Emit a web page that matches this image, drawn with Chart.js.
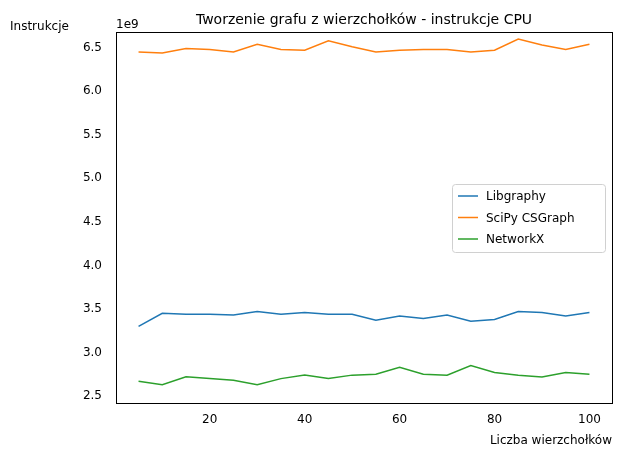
<!DOCTYPE html>
<html>
<head>
<meta charset="utf-8">
<script src="https://cdn.jsdelivr.net/npm/chart.js@4"></script>
<style>
  body { margin: 0; background: #fff; }
  #wrap { width: 621px; height: 457px; }
</style>
</head>
<body>
<div id="wrap"><canvas id="c" width="621" height="457"></canvas></div>
<script>
// -- data (values in units of 1e9 instructions) ----------------------------->
const sizes = [5, 10, 15, 20, 25, 30, 35, 40, 45, 50, 55, 60, 65, 70, 75, 80, 85, 90, 95, 100]
const libgraphy = [3.30, 3.45, 3.44, 3.44, 3.43, 3.47, 3.44, 3.46, 3.44, 3.44, 3.37, 3.42, 3.39, 3.43, 3.36, 3.38, 3.47, 3.46, 3.42, 3.46]
const scipy = [6.45, 6.44, 6.49, 6.48, 6.45, 6.54, 6.48, 6.47, 6.58, 6.51, 6.45, 6.47, 6.48, 6.48, 6.45, 6.47, 6.60, 6.53, 6.48, 6.54]
const networkx = [2.67, 2.63, 2.72, 2.70, 2.68, 2.63, 2.70, 2.74, 2.70, 2.74, 2.75, 2.83, 2.75, 2.74, 2.85, 2.77, 2.74, 2.72, 2.77, 2.75]
const xTicks = [20, 40, 60, 80, 100]
const yTicks = [2.5, 3.0, 3.5, 4.0, 4.5, 5.0, 5.5, 6.0, 6.5]

const FONT = 'DejaVu Sans'
const series = [
    { label: 'Libgraphy', data: libgraphy, color: '#1f77b4' },
    { label: 'SciPy CSGraph', data: scipy, color: '#ff7f0e' },
    { label: 'NetworkX', data: networkx, color: '#2ca02c' }
]

// -- extra drawing: frame, texts, legend ------------------------------------>
const decor = {
    id: 'decor',
    afterDraw(chart) {
        const { ctx, chartArea: a } = chart
        ctx.save()
        ctx.strokeStyle = '#000'
        ctx.lineWidth = 1
        ctx.strokeRect(a.left + 0.5, a.top + 0.5, a.right - a.left, a.bottom - a.top)

        ctx.fillStyle = '#000'
        ctx.font = '14px ' + FONT
        ctx.textAlign = 'center'
        ctx.textBaseline = 'alphabetic'
        ctx.fillText('Tworzenie grafu z wierzchołków - instrukcje CPU', (a.left + a.right) / 2, 24)

        ctx.font = '12px ' + FONT
        ctx.textAlign = 'left'
        ctx.fillText('Instrukcje', 10, 30)
        ctx.fillText('1e9', a.left, 28)
        ctx.textAlign = 'right'
        ctx.fillText('Liczba wierzchołków', 612, 444)

        // legend box
        const lx = 452, ly = 184, lw = 153, lh = 68
        ctx.fillStyle = 'rgba(255,255,255,0.8)'
        ctx.strokeStyle = '#d0d0d0'
        ctx.beginPath()
        ctx.roundRect(lx + 0.5, ly + 0.5, lw, lh, 3)
        ctx.fill()
        ctx.stroke()
        ctx.textAlign = 'left'
        ctx.textBaseline = 'middle'
        series.forEach((s, i) => {
            const y = ly + 12 + i * 21.5
            ctx.strokeStyle = s.color
            ctx.lineWidth = 1.5
            ctx.beginPath()
            ctx.moveTo(lx + 6, y)
            ctx.lineTo(lx + 26, y)
            ctx.stroke()
            ctx.fillStyle = '#000'
            ctx.fillText(s.label, lx + 34, y + 1)
        })
        ctx.restore()
    }
}

new Chart(document.getElementById('c'), {
    type: 'line',
    data: {
        datasets: series.map(s => ({
            label: s.label,
            data: sizes.map((x, i) => ({ x, y: s.data[i] })),
            borderColor: s.color,
            borderWidth: 1.5,
            pointRadius: 0,
            tension: 0,
            fill: false
        }))
    },
    options: {
        responsive: false,
        animation: false,
        layout: { padding: { top: 32, right: 9, left: 0, bottom: 0 } },
        plugins: { legend: { display: false }, title: { display: false }, tooltip: { enabled: false } },
        scales: {
            x: {
                type: 'linear',
                min: 0.25,
                max: 104.75,
                grid: { display: false, drawTicks: true },
                border: { display: false },
                afterBuildTicks: sc => { sc.ticks = xTicks.map(v => ({ value: v })) },
                afterFit: sc => { sc.height = 54 },
                ticks: { color: '#000', font: { family: FONT, size: 12 }, maxRotation: 0, padding: 2 }
            },
            y: {
                min: 2.42,
                max: 6.68,
                grid: { display: false },
                border: { display: false },
                afterBuildTicks: sc => { sc.ticks = yTicks.map(v => ({ value: v })) },
                afterFit: sc => { sc.width = 116 },
                ticks: { color: '#000', font: { family: FONT, size: 12 }, padding: 6, callback: v => v.toFixed(1) }
            }
        }
    },
    plugins: [decor]
})
</script>
</body>
</html>
